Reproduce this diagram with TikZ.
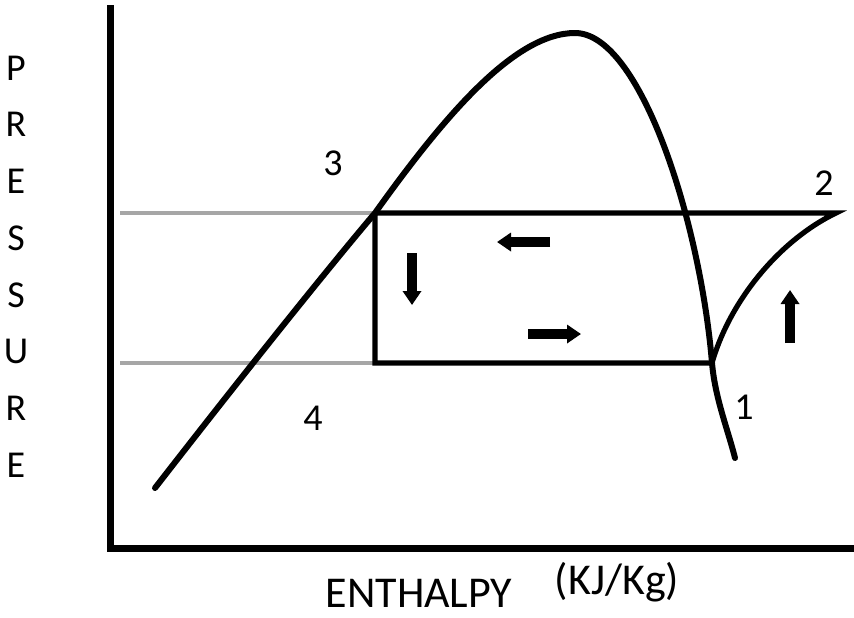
\documentclass[tikz,border=0pt]{standalone}
\usepackage{fontspec}
\setmainfont{Carlito}
\usetikzlibrary{arrows.meta}
\begin{document}
\begin{tikzpicture}
  [x=0.5pt,y=-0.5pt,
   every node/.style={font=\fontsize{19}{22}\selectfont,inner sep=0pt},
   axisline/.style={line width=3.5pt},
   domeline/.style={line width=3pt,line join=round,line cap=round},
   cycleline/.style={line width=2.6pt},
   guideline/.style={line width=1.6pt,gray!70},
   flowarrow/.style={line width=4.6pt,-{Triangle[width=9pt,length=7pt]}}]

  \useasboundingbox (0,0) rectangle (854,617);

  % axes
  \coordinate (top)    at (110,5);
  \coordinate (origin) at (110,548);
  \coordinate (right)  at (854,548);
  \draw[axisline] (top) -- (origin) -- (right);

  \foreach \ch [count=\i] in {P,R,E,S,S,U,R,E}
    \node (p\i) at (16,{68+56.7*(\i-1)}) {\ch};
  \node[font=\fontsize{22}{26}\selectfont] (xlab) at (419,593) {ENTHALPY};
  \node[font=\fontsize{22}{26}\selectfont] (unit) at (617,582) {(KJ/Kg)};

  % states of the cycle
  \coordinate (s1) at (712,363);
  \coordinate (s2) at (836,213);
  \coordinate (s3) at (375,213);
  \coordinate (s4) at (375,363);

  \node (l1) at (744,407) {1};
  \node (l2) at (824,183) {2};
  \node (l3) at (333,163) {3};
  \node (l4) at (313,418) {4};

  % pressure levels
  \coordinate (g3) at (120,213);
  \coordinate (g4) at (120,363);
  \draw[guideline] (g3) -- (s3);
  \draw[guideline] (g4) -- (s4);

  % saturation dome
  \coordinate (dstart) at (155,488);
  \coordinate (peak)   at (575,33);
  \coordinate (dend)   at (735,458);
  \draw[domeline] (dstart) .. controls (235,385) and (320,278) .. (s3)
    .. controls (445,115) and (515,33) .. (peak)
    .. controls (640,33) and (700,220) .. (s1)
    .. controls (715,398) and (728,430) .. (dend);

  % cycle
  \draw[cycleline] (s3) -- (s2) .. controls (780,240) and (730,300) .. (s1)
    -- (s4) -- (s3);

  % flow direction
  \coordinate (a1) at (412,253); \coordinate (b1) at (412,305);
  \coordinate (a2) at (550,242); \coordinate (b2) at (497,242);
  \coordinate (a3) at (528,334); \coordinate (b3) at (581,334);
  \coordinate (a4) at (790,343); \coordinate (b4) at (790,290);
  \foreach \from/\to in {a1/b1,a2/b2,a3/b3,a4/b4}
    \draw[flowarrow] (\from) -- (\to);

\end{tikzpicture}
\end{document}
